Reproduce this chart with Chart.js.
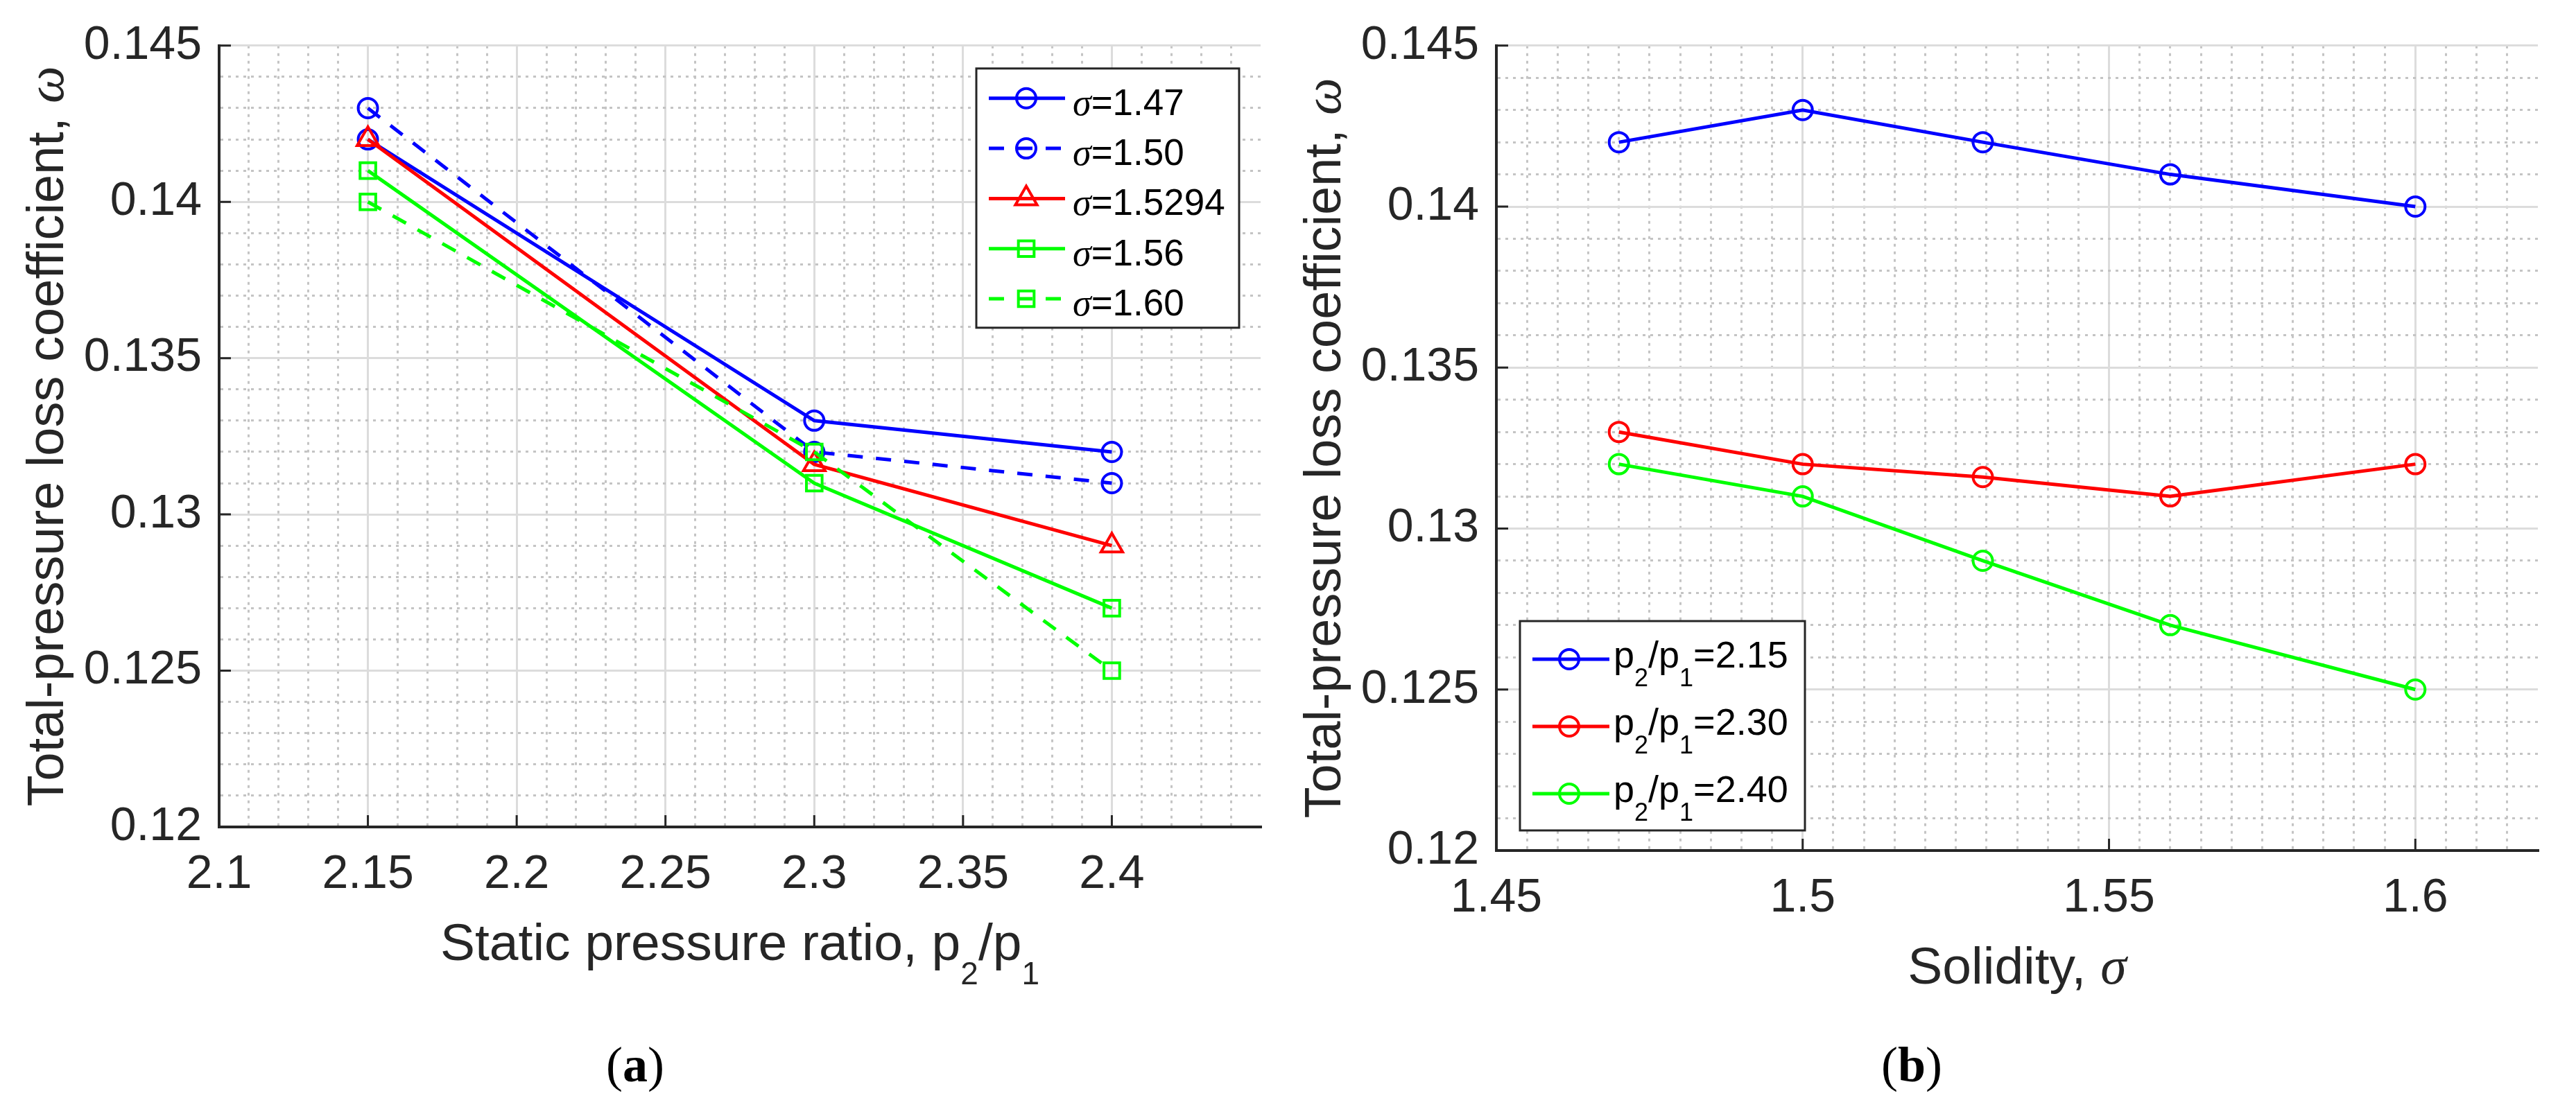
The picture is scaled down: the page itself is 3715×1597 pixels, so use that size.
<!DOCTYPE html>
<html>
<head>
<meta charset="utf-8">
<script src="https://cdn.jsdelivr.net/npm/chart.js@4.4.1/dist/chart.umd.min.js"></script>
<style>
  body { margin: 0; background: #fff; width: 3715px; height: 1597px; position: relative; overflow: hidden; }
  canvas { position: absolute; top: 0; }
  #chartA { left: 0; }
  #chartB { left: 1860px; }
  .cap { position: absolute; top: 1500px; width: 400px; text-align: center; color: #000;
         font: 72px "Liberation Serif", "Times New Roman", serif; line-height: 72px; }
</style>
</head>
<body>
<canvas id="chartA" width="1860" height="1597"></canvas>
<canvas id="chartB" width="1855" height="1597"></canvas>
<div class="cap" style="left:716px">(<b>a</b>)</div>
<div class="cap" style="left:2557px">(<b>b</b>)</div>
<script>
// Data-----
const pressureRatios = [2.15, 2.3, 2.4];
const ratioLabels = ['2.15', '2.30', '2.40'];
const solidities = [1.47, 1.50, 1.5294, 1.56, 1.60];
const solidityLabels = ['1.47', '1.50', '1.5294', '1.56', '1.60'];

// total-pressure loss coefficient at p2/p1 = 2.15, 2.30, 2.40, one array per solidity
const loss147 = [0.142, 0.133, 0.132];
const loss150 = [0.143, 0.132, 0.131];
const loss15294 = [0.142, 0.1316, 0.129];
const loss156 = [0.141, 0.131, 0.127];
const loss160 = [0.140, 0.132, 0.125];
const sigmaSeries = [loss147, loss150, loss15294, loss156, loss160];
// Data-----

const SANS = '"Liberation Sans", Arial, Helvetica, sans-serif';
const SERIF = '"Liberation Serif", "Times New Roman", serif';
const INK = '#262626';

const onStep = (v, step) => Math.abs(v / step - Math.round(v / step)) < 1e-6;
const fmt = (v) => parseFloat(v.toFixed(4)).toString();

function drawRich(ctx, parts, x, y, center) {
    let total = 0;
    const widths = parts.map(p => {
        ctx.font = p[1];
        const w = ctx.measureText(p[0]).width;
        total += w;
        return w;
    });
    let cx = center ? x - total / 2 : x;
    parts.forEach((p, i) => {
        ctx.font = p[1];
        ctx.fillText(p[0], cx, y + (p[2] || 0));
        cx += widths[i];
    });
}

// Styles-----
const sigmaStyles = [
    {color: '#0000ff', dash: [], point: 'circle', r: 14},
    {color: '#0000ff', dash: [22, 19], point: 'circle', r: 14},
    {color: '#ff0000', dash: [], point: 'triangle', r: 18},
    {color: '#00ff00', dash: [], point: 'rect', r: 16},
    {color: '#00ff00', dash: [22, 19], point: 'rect', r: 16}
];
const ratioColors = ['#0000ff', '#ff0000', '#00ff00'];
// Styles-----

const datasetsA = sigmaSeries.map((s, i) => ({
    label: 'σ=' + solidityLabels[i],
    data: pressureRatios.map((x, k) => ({x: x, y: s[k]})),
    borderColor: sigmaStyles[i].color,
    borderDash: sigmaStyles[i].dash,
    borderWidth: 5,
    pointStyle: sigmaStyles[i].point,
    pointRadius: sigmaStyles[i].r,
    pointBorderWidth: 4,
    pointBorderColor: sigmaStyles[i].color,
    pointBackgroundColor: 'rgba(0,0,0,0)',
    order: sigmaSeries.length - i
}));

const datasetsB = pressureRatios.map((p, j) => ({
    label: 'p2/p1=' + ratioLabels[j],
    data: solidities.map((x, i) => ({x: x, y: sigmaSeries[i][j]})),
    borderColor: ratioColors[j],
    borderDash: [],
    borderWidth: 5,
    pointStyle: 'circle',
    pointRadius: 14,
    pointBorderWidth: 4,
    pointBorderColor: ratioColors[j],
    pointBackgroundColor: 'rgba(0,0,0,0)',
    order: pressureRatios.length - j
}));

// draws the MATLAB-like extras: inward ticks, rich axis titles, boxed legend
function decor(cfg) {
    return {
        id: 'decor',
        afterDraw(chart) {
            const ctx = chart.ctx, a = chart.chartArea;
            const xs = chart.scales.x, ys = chart.scales.y;
            ctx.save();
            ctx.strokeStyle = INK;
            ctx.lineWidth = 3;
            ctx.beginPath();
            xs.ticks.forEach(t => {
                if (!cfg.xMajor(t.value)) return;
                const px = xs.getPixelForValue(t.value);
                ctx.moveTo(px, a.bottom);
                ctx.lineTo(px, a.bottom - 17);
            });
            ys.ticks.forEach(t => {
                if (!onStep(t.value, 0.005)) return;
                const py = ys.getPixelForValue(t.value);
                ctx.moveTo(a.left, py);
                ctx.lineTo(a.left + 17, py);
            });
            ctx.stroke();

            ctx.fillStyle = INK;
            ctx.textBaseline = 'alphabetic';
            drawRich(ctx, cfg.xTitle, (a.left + a.right) / 2, a.bottom + 192, true);
            ctx.save();
            ctx.translate(a.left - 225, (a.top + a.bottom) / 2);
            ctx.rotate(-Math.PI / 2);
            drawRich(ctx, cfg.yTitle, 0, 0, true);
            ctx.restore();

            const lg = cfg.legend;
            const box = lg.box(a);
            ctx.fillStyle = '#fff';
            ctx.fillRect(box.x, box.y, box.w, box.h);
            ctx.strokeStyle = INK;
            ctx.lineWidth = 3;
            ctx.strokeRect(box.x, box.y, box.w, box.h);
            chart.data.datasets.forEach((ds, i) => {
                const y = box.y + lg.row0 + i * lg.step;
                ctx.save();
                ctx.strokeStyle = ds.borderColor;
                ctx.lineWidth = ds.borderWidth;
                ctx.setLineDash(ds.borderDash || []);
                ctx.beginPath();
                ctx.moveTo(box.x + lg.x0, y);
                ctx.lineTo(box.x + lg.x1, y);
                ctx.stroke();
                ctx.restore();
                ctx.save();
                ctx.strokeStyle = ds.pointBorderColor;
                ctx.fillStyle = 'rgba(0,0,0,0)';
                ctx.lineWidth = ds.pointBorderWidth;
                Chart.helpers.drawPoint(ctx, {
                    pointStyle: ds.pointStyle, radius: ds.pointRadius,
                    borderWidth: ds.pointBorderWidth, rotation: 0
                }, box.x + lg.mx, y);
                ctx.restore();
                ctx.fillStyle = '#000';
                drawRich(ctx, lg.parts[i], box.x + lg.tx, y + lg.dy, false);
            });
            ctx.restore();
        }
    };
}

function lossChart(canvasId, datasets, cfg) {
    const tickFont = {family: SANS, size: 68};
    return new Chart(document.getElementById(canvasId), {
        type: 'line',
        data: {datasets: datasets},
        options: {
            responsive: false,
            animation: false,
            devicePixelRatio: 1,
            layout: {padding: cfg.padding},
            plugins: {legend: {display: false}, tooltip: {enabled: false}},
            scales: {
                x: {
                    type: 'linear',
                    min: cfg.xMin,
                    max: cfg.xMax,
                    afterFit(scale) { scale.height = 150; },
                    ticks: {
                        stepSize: cfg.xStep,
                        autoSkip: false,
                        maxRotation: 0,
                        minRotation: 0,
                        padding: 28,
                        color: INK,
                        font: tickFont,
                        callback: (v) => cfg.xMajor(v) ? fmt(v) : ''
                    },
                    grid: {
                        drawTicks: false,
                        color: (c) => cfg.xMajor(c.tick.value) ? '#dcdcdc'
                            : (c.tick.value >= cfg.xMax - 1e-9 ? 'rgba(0,0,0,0)' : '#c4c4c4'),
                        lineWidth: 3
                    },
                    border: {
                        color: INK, width: 4,
                        dash: (c) => (c.tick && cfg.xMajor(c.tick.value)) ? [] : [4, 7]
                    }
                },
                y: {
                    min: 0.12,
                    max: 0.145,
                    afterFit(scale) { scale.width = cfg.yWidth; },
                    ticks: {
                        stepSize: 0.001,
                        autoSkip: false,
                        padding: 25,
                        color: INK,
                        font: tickFont,
                        callback: (v) => onStep(v, 0.005) ? fmt(v) : ''
                    },
                    grid: {
                        drawTicks: false,
                        color: (c) => onStep(c.tick.value, 0.005) ? '#dcdcdc' : '#c4c4c4',
                        lineWidth: 3
                    },
                    border: {
                        color: INK, width: 4,
                        dash: (c) => (c.tick && onStep(c.tick.value, 0.005)) ? [] : [4, 7]
                    }
                }
            }
        },
        plugins: [decor(cfg)]
    });
}

const F = (size, style) => (style ? style + ' ' : '') + size + 'px ' + SANS;
const FS = (size) => 'italic ' + size + 'px ' + SERIF;

// Config-----
const yTitle = [['Total-pressure loss coefficient, ', F(74)], ['ω', FS(76)]];

var chartA = lossChart('chartA', datasetsA, {
    xMin: 2.1, xMax: 2.45, xStep: 0.01,
    xMajor: (v) => onStep(v, 0.05) && v < 2.44,
    padding: {left: 0, top: 52, right: 42, bottom: 254},
    yWidth: 316,
    xTitle: [['Static pressure ratio, p', F(75)], ['2', F(46), 35], ['/p', F(75)], ['1', F(46), 35]],
    yTitle: yTitle,
    legend: {
        box: (a) => ({x: a.right - 31 - 379, y: a.top + 33, w: 379, h: 374}),
        row0: 43, step: 72.3, x0: 18, x1: 128, mx: 72, tx: 139, dy: 24,
        parts: solidityLabels.map(s => [['σ', FS(54)], ['=' + s, F(53)]])
    }
});

var chartB = lossChart('chartB', datasetsB, {
    xMin: 1.45, xMax: 1.62, xStep: 0.005,
    xMajor: (v) => onStep(v, 0.05),
    padding: {left: 0, top: 52, right: 55, bottom: 220},
    yWidth: 298,
    xTitle: [['Solidity, ', F(75)], ['σ', FS(76)]],
    yTitle: yTitle,
    legend: {
        box: (a) => ({x: a.left + 34, y: a.bottom - 29 - 302, w: 411, h: 302}),
        row0: 55, step: 97, x0: 18, x1: 129, mx: 71, tx: 135, dy: 12,
        parts: ratioLabels.map(r => [['p', F(54)], ['2', F(36), 27], ['/p', F(54)], ['1', F(36), 27], ['=' + r, F(54)]])
    }
});
// Config-----
</script>
</body>
</html>
